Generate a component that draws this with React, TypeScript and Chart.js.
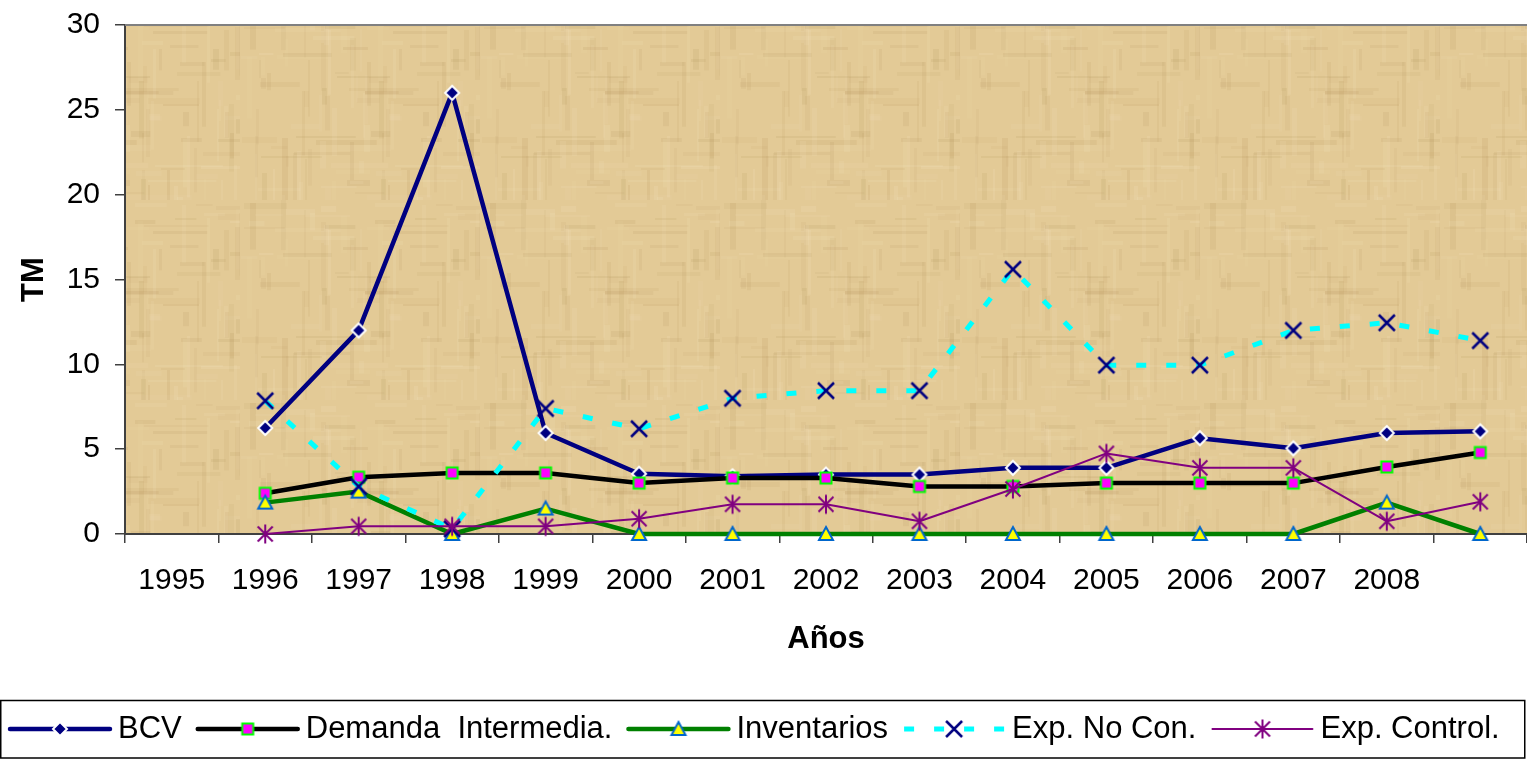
import React, { useEffect, useRef } from 'react';
import { Chart, registerables } from 'chart.js';

Chart.register(...registerables);

const categories = ['1995', '1996', '1997', '1998', '1999', '2000', '2001', '2002', '2003', '2004', '2005', '2006', '2007', '2008', ''];
const bcv = [null, 6.25, 12.0, 26.0, 5.95, 3.55, 3.4, 3.5, 3.5, 3.9, 3.9, 5.65, 5.05, 5.95, 6.05];
const demanda = [null, 2.4, 3.35, 3.6, 3.6, 3.0, 3.3, 3.3, 2.8, 2.8, 3.0, 3.0, 3.0, 3.95, 4.8];
const inventarios = [null, 1.85, 2.5, 0, 1.5, 0, 0, 0, 0, 0, 0, 0, 0, 1.85, 0];
const expNoCon = [null, 7.85, 2.8, 0.3, 7.4, 6.2, 8.0, 8.45, 8.45, 15.6, 9.95, 9.95, 12.0, 12.45, 11.4];
const expControl = [null, 0, 0.45, 0.45, 0.45, 0.9, 1.75, 1.75, 0.75, 2.65, 4.75, 3.9, 3.9, 0.75, 1.9];
const yTicks = [0, 5, 10, 15, 20, 25, 30];

const seriesNames = ['BCV', 'Demanda  Intermedia.', 'Inventarios', 'Exp. No Con.', 'Exp. Control.'];

const FONT = '"Liberation Sans", Arial, Helvetica, sans-serif';

type MarkerKind = 'diamond' | 'square' | 'triangle' | 'x' | 'star';

function makeMarker(kind: MarkerKind): HTMLCanvasElement {
  const s = 22;
  const c = document.createElement('canvas');
  c.width = s;
  c.height = s;
  const ctx = c.getContext('2d')!;
  const m = s / 2;
  ctx.lineJoin = 'miter';
  if (kind === 'diamond') {
    ctx.beginPath();
    ctx.moveTo(m, m - 7);
    ctx.lineTo(m + 7, m);
    ctx.lineTo(m, m + 7);
    ctx.lineTo(m - 7, m);
    ctx.closePath();
    ctx.fillStyle = '#000080';
    ctx.fill();
    ctx.lineWidth = 2;
    ctx.strokeStyle = '#FFFFFF';
    ctx.stroke();
  } else if (kind === 'square') {
    ctx.fillStyle = '#FF00FF';
    ctx.fillRect(m - 5.5, m - 5.5, 11, 11);
    ctx.lineWidth = 2;
    ctx.strokeStyle = '#00FF00';
    ctx.strokeRect(m - 5.5, m - 5.5, 11, 11);
  } else if (kind === 'triangle') {
    ctx.beginPath();
    ctx.moveTo(m, m - 7);
    ctx.lineTo(m + 7, m + 6);
    ctx.lineTo(m - 7, m + 6);
    ctx.closePath();
    ctx.fillStyle = '#FFFF00';
    ctx.fill();
    ctx.lineWidth = 2;
    ctx.strokeStyle = '#0066CC';
    ctx.stroke();
  } else if (kind === 'x') {
    ctx.beginPath();
    ctx.moveTo(m - 8, m - 8);
    ctx.lineTo(m + 8, m + 8);
    ctx.moveTo(m + 8, m - 8);
    ctx.lineTo(m - 8, m + 8);
    ctx.lineWidth = 2.5;
    ctx.strokeStyle = '#000080';
    ctx.stroke();
  } else if (kind === 'star') {
    ctx.beginPath();
    ctx.moveTo(m - 7.5, m - 7.5);
    ctx.lineTo(m + 7.5, m + 7.5);
    ctx.moveTo(m + 7.5, m - 7.5);
    ctx.lineTo(m - 7.5, m + 7.5);
    ctx.moveTo(m, m - 9.5);
    ctx.lineTo(m, m + 9.5);
    ctx.lineWidth = 2;
    ctx.strokeStyle = '#800080';
    ctx.stroke();
  }
  return c;
}

function hash(n: number): number {
  const v = Math.sin(n * 12.9898 + 78.233) * 43758.5453;
  return v - Math.floor(v);
}

function makeTexture(): HTMLCanvasElement {
  const W = 240;
  const H = 200;
  const c = document.createElement('canvas');
  c.width = W;
  c.height = H;
  const ctx = c.getContext('2d')!;
  ctx.fillStyle = '#E3CA96';
  ctx.fillRect(0, 0, W, H);
  for (let k = 0; k < 160; k++) {
    const x = Math.floor(hash(k) * W);
    const y = Math.floor(hash(k + 1000) * H);
    const vertical = hash(k + 2000) > 0.5;
    const len = 10 + hash(k + 3000) * 60;
    const thick = 2 + Math.floor(hash(k + 4000) * 5);
    const dark = hash(k + 5000) > 0.5;
    const a = 0.04 + hash(k + 6000) * 0.07;
    ctx.fillStyle = dark ? `rgba(160,125,65,${a})` : `rgba(255,245,215,${a})`;
    if (vertical) ctx.fillRect(x, y, thick, len);
    else ctx.fillRect(x, y, len, thick);
  }
  return c;
}

const App: React.FC = () => {
  const ref = useRef<HTMLCanvasElement | null>(null);

  useEffect(() => {
    const canvas = ref.current;
    if (!canvas) return;
    const markers: Record<MarkerKind, HTMLCanvasElement> = {
      diamond: makeMarker('diamond'),
      square: makeMarker('square'),
      triangle: makeMarker('triangle'),
      x: makeMarker('x'),
      star: makeMarker('star'),
    };
    const texture = makeTexture();

    const legendItems = [
      { name: seriesNames[0], color: '#000080', width: 4.5, dash: [] as number[], marker: markers.diamond },
      { name: seriesNames[1], color: '#000000', width: 4.5, dash: [] as number[], marker: markers.square },
      { name: seriesNames[2], color: '#008000', width: 4.5, dash: [] as number[], marker: markers.triangle },
      { name: seriesNames[3], color: '#00FFFF', width: 5, dash: [10, 20], marker: markers.x },
      { name: seriesNames[4], color: '#800080', width: 2, dash: [] as number[], marker: markers.star },
    ];

    const decor = {
      id: 'decor',
      beforeDraw(chart: any) {
        const { ctx, chartArea } = chart;
        ctx.save();
        const pat = ctx.createPattern(texture, 'repeat');
        ctx.fillStyle = pat || '#E3CA96';
        ctx.fillRect(chartArea.left, chartArea.top, chartArea.right - chartArea.left, chartArea.bottom - chartArea.top);
        ctx.restore();
      },
      afterDraw(chart: any) {
        const { ctx, chartArea } = chart;
        ctx.save();
        ctx.strokeStyle = '#808080';
        ctx.lineWidth = 2;
        ctx.beginPath();
        ctx.moveTo(chartArea.left, chartArea.top);
        ctx.lineTo(chartArea.right, chartArea.top);
        ctx.stroke();

        ctx.strokeStyle = '#000000';
        ctx.lineWidth = 1.5;
        ctx.strokeRect(0.75, 700.5, 1524, 57.5);

        ctx.font = `31px ${FONT}`;
        ctx.textBaseline = 'middle';
        ctx.textAlign = 'left';
        const cy = 729;
        let x = 10;
        for (const it of legendItems) {
          ctx.save();
          ctx.strokeStyle = it.color;
          ctx.lineWidth = it.width;
          ctx.lineCap = it.dash.length ? 'butt' : 'round';
          ctx.setLineDash(it.dash);
          ctx.beginPath();
          ctx.moveTo(x, cy);
          ctx.lineTo(x + 100, cy);
          ctx.stroke();
          ctx.restore();
          const mk = it.marker;
          ctx.drawImage(mk, x + 50 - mk.width / 2, cy - mk.height / 2);
          const tx = x + 108;
          ctx.fillStyle = '#000000';
          ctx.fillText(it.name, tx, cy);
          x = tx + ctx.measureText(it.name).width + 16;
        }
        ctx.restore();
      },
    };

    const base = {
      spanGaps: false,
      clip: false,
      borderJoinStyle: 'round' as const,
      pointRadius: 8,
      pointHoverRadius: 8,
    };

    const chart = new Chart(canvas, {
      type: 'line',
      data: {
        labels: categories,
        datasets: [
          { ...base, label: seriesNames[0], data: bcv, borderColor: '#000080', borderWidth: 4.5, borderCapStyle: 'round', pointStyle: markers.diamond, order: 5 },
          { ...base, label: seriesNames[1], data: demanda, borderColor: '#000000', borderWidth: 4.5, borderCapStyle: 'round', pointStyle: markers.square, order: 4 },
          { ...base, label: seriesNames[2], data: inventarios, borderColor: '#008000', borderWidth: 4.5, borderCapStyle: 'round', pointStyle: markers.triangle, order: 3 },
          { ...base, label: seriesNames[3], data: expNoCon, borderColor: '#00FFFF', borderWidth: 5, borderDash: [10, 20], borderCapStyle: 'butt', pointStyle: markers.x, order: 2 },
          { ...base, label: seriesNames[4], data: expControl, borderColor: '#800080', borderWidth: 2, borderCapStyle: 'round', pointStyle: markers.star, order: 1 },
        ] as any,
      },
      options: {
        responsive: false,
        animation: false,
        devicePixelRatio: 1,
        layout: { autoPadding: false, padding: { top: 25, bottom: 101, left: 0, right: 0 } },
        plugins: {
          legend: { display: false },
          tooltip: { enabled: false },
        },
        scales: {
          x: {
            type: 'category',
            offset: true,
            grid: { offset: true, drawOnChartArea: false, drawTicks: true, tickLength: 9, color: '#404040', lineWidth: 1.5 },
            border: { color: '#404040', width: 2 },
            ticks: { color: '#000000', font: { family: FONT, size: 30 }, padding: 20, maxRotation: 0, autoSkip: false },
            title: { display: true, text: 'Años', color: '#000000', font: { family: FONT, size: 31, weight: 'bold', lineHeight: 1.2 }, padding: { top: 0, bottom: 6 } },
            afterFit: (s: any) => { s.height = 130; s.paddingLeft = 0; s.paddingRight = 0; },
          },
          y: {
            min: 0,
            max: 30,
            afterBuildTicks: (s: any) => { s.ticks = yTicks.map((v) => ({ value: v })); },
            grid: { drawOnChartArea: false, drawTicks: true, tickLength: 10, color: '#404040', lineWidth: 1.5 },
            border: { color: '#404040', width: 2 },
            ticks: { color: '#000000', font: { family: FONT, size: 30 }, padding: 15 },
            title: { display: true, text: 'TM', color: '#000000', font: { family: FONT, size: 31, weight: 'bold', lineHeight: 1.2 }, padding: { top: 16, bottom: 0 } },
            afterFit: (s: any) => { s.width = 125; s.paddingTop = 0; s.paddingBottom = 0; },
          },
        },
      } as any,
      plugins: [decor],
    });
    return () => chart.destroy();
  }, []);

  return (
    <div style={{ position: 'absolute', left: 0, top: 0, width: 1527, height: 765, background: '#FFFFFF' }}>
      <canvas ref={ref} width={1527} height={765} style={{ display: 'block', width: 1527, height: 765 }} />
    </div>
  );
};

export default App;
